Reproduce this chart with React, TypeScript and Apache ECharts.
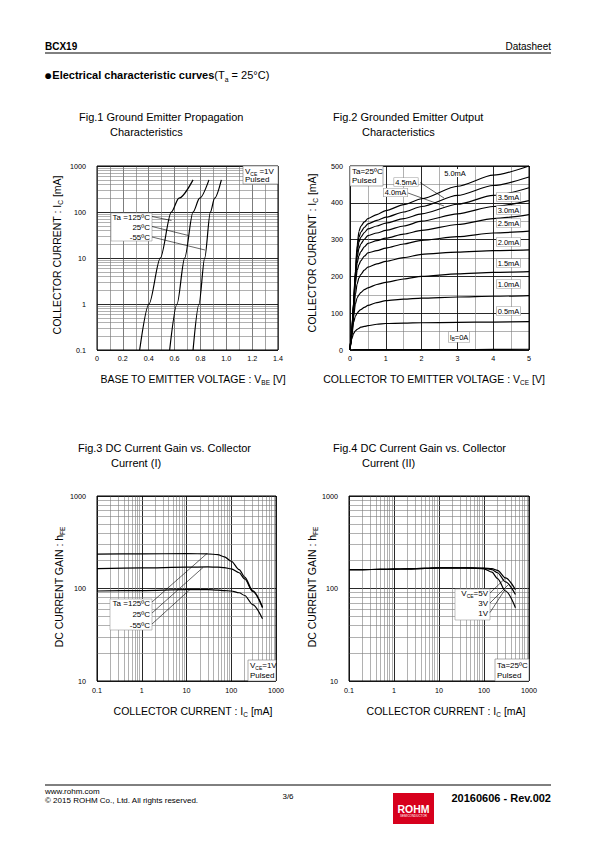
import React, { useEffect, useRef } from 'react';
import * as echarts from 'echarts';

const FONT = '"Liberation Sans", Arial, Helvetica, sans-serif';

// ---------------- Fig.1 : Ic vs Vbe ----------------
const fig1Ic = [0.1, 1, 10, 100, 200, 500];
const fig1Vbe125 = [0.330, 0.402, 0.490, 0.575, 0.634, 0.743];
const fig1Vbe25 = [0.562, 0.619, 0.678, 0.743, 0.794, 0.866];
const fig1VbeM55 = [0.743, 0.789, 0.833, 0.877, 0.910, 0.962];
const fig1TempLabels = ['Ta =125ºC', '25ºC', '-55ºC'];
const fig1XTicks = ['0', '0.2', '0.4', '0.6', '0.8', '1.0', '1.2', '1.4'];
const fig1YTicks = ['0.1', '1', '10', '100', '1000'];

// ---------------- Fig.2 : Ic vs Vce ----------------
const fig2Vce = [0, 0.05, 0.1, 0.15, 0.2, 0.25, 0.3, 0.4, 0.5, 0.75, 1, 1.5, 2, 3, 4, 5];
const fig2Ic50 = [0, 50, 130, 215, 285, 322, 336, 348, 357, 368, 379, 395, 411, 445, 475, 500];
const fig2Ic45 = [0, 50, 128, 210, 275, 306, 320, 333, 343, 352, 361, 375, 390, 420, 447, 470];
const fig2Ic40 = [0, 48, 125, 205, 265, 293, 306, 319, 329, 337, 345, 357, 370, 396, 420, 441];
const fig2Ic35 = [0, 47, 122, 198, 252, 276, 288, 301, 311, 318, 325, 337, 350, 370, 390, 406];
const fig2Ic30 = [0, 46, 118, 190, 236, 256, 267, 280, 290, 297, 304, 315, 325, 341, 357, 368];
const fig2Ic25 = [0, 45, 114, 180, 216, 232, 242, 255, 264, 270, 277, 288, 298, 308, 318, 323];
const fig2Ic20 = [0, 42, 100, 150, 180, 196, 205, 217, 225, 234, 241, 251, 260, 266, 270, 272];
const fig2Ic15 = [0, 40, 90, 125, 142, 150, 156, 164, 169, 178, 184, 193, 200, 207, 211, 213];
const fig2Ic10 = [0, 38, 75, 92, 100, 106, 110, 116, 121, 129, 134, 138, 141, 144, 146, 148];
const fig2Ic05 = [0, 30, 45, 52, 56, 59, 62, 64, 66, 70, 72, 73, 74, 75, 76, 77];
const fig2Ic00 = [0, 0.5, 1, 1, 1, 1, 1, 1, 1, 1, 1, 1, 1, 1, 1.5, 2];
const fig2IbLabels = ['5.0mA', '4.5mA', '4.0mA', '3.5mA', '3.0mA', '2.5mA', '2.0mA', '1.5mA', '1.0mA', '0.5mA'];
const fig2XTicks = ['0', '1', '2', '3', '4', '5'];
const fig2YTicks = ['0', '100', '200', '300', '400', '500'];

// ---------------- Fig.3 : hFE vs Ic (temperature) ----------------
const fig3Ic = [0.1, 1, 10, 30, 50, 70, 100, 150, 200, 300, 500];
const fig3Hfe125 = [235, 237, 238, 237, 232, 220, 197, 160, 133, 95, 63];
const fig3Hfe25 = [164, 167, 170, 171, 170, 168, 163, 148, 127, 93, 62];
const fig3HfeM55 = [94, 95, 97, 97, 96, 95, 94, 90, 84, 67, 47];

// ---------------- Fig.4 : hFE vs Ic (Vce) ----------------
const fig4Ic = [0.1, 0.2, 0.5, 1, 2, 5, 10, 20, 50, 100, 150, 200, 300, 500];
const fig4Hfe5V = [160, 160, 161, 162, 163, 165, 167, 167, 167, 166, 164, 157, 130, 97];
const fig4Hfe3V = [160, 160, 161, 162, 163, 165, 167, 167, 167, 165, 160, 148, 118, 86];
const fig4Hfe1V = [160, 160, 161, 162, 163, 165, 167, 167, 166, 163, 150, 128, 94, 62];
const fig4VceLabels = ['3V', '1V'];

const icLogTicks = ['0.1', '1', '10', '100', '1000'];
const hfeLogTicks = ['10', '100', '1000'];

// ---- helpers ----
const minorLog = (minExp: number, maxExp: number) => {
  const out: number[] = [];
  for (let e = minExp; e < maxExp; e++) for (let d = 2; d <= 9; d++) out.push(+(d * Math.pow(10, e)).toPrecision(3));
  return out;
};
const MAJOR = { color: '#111', width: 0.9 };
const MINOR = { color: '#7c7c7c', width: 0.6 };

const pairs = (xs: number[], ys: number[]) => xs.map((x, i) => [x, ys[i]]);

const curve = (idx: number, data: number[][], extra: any = {}) => ({
  type: 'line',
  xAxisIndex: idx,
  yAxisIndex: idx,
  data,
  showSymbol: false,
  symbol: 'none',
  smooth: 0.3,
  smoothMonotone: 'x',
  silent: true,
  z: 3,
  lineStyle: { color: '#000', width: 1.2 },
  itemStyle: { color: '#000' },
  emphasis: { disabled: true },
  ...extra,
});

const gridMarks = (data: any[]) => ({
  silent: true,
  symbol: ['none', 'none'],
  label: { show: false },
  emphasis: { disabled: true },
  lineStyle: { color: MINOR.color, width: MINOR.width, type: 'solid' },
  z: 1,
  animation: false,
  data,
});

const lbl = (fmt: (v: number) => string, margin: number) => ({
  fontSize: 7.2,
  fontFamily: FONT,
  color: '#000',
  margin,
  showMinLabel: true,
  showMaxLabel: true,
  formatter: fmt,
});

const T = (x: number, y: number, text: string, o: any = {}) => ({
  type: 'text',
  x,
  y,
  z: 101,
  silent: true,
  rotation: o.rotation || 0,
  style: {
    text,
    fontFamily: FONT,
    fontSize: o.fontSize || 8,
    fontWeight: o.fontWeight || 'normal',
    fill: '#000',
    align: o.align || 'left',
    verticalAlign: 'middle',
    rich: o.rich,
    backgroundColor: o.bg,
    borderColor: o.border,
    borderWidth: o.border ? 0.6 : 0,
    padding: o.padding,
  },
});
const L = (x1: number, y1: number, x2: number, y2: number, w = 0.6, c = '#000') => ({
  type: 'line',
  z: 100,
  silent: true,
  shape: { x1, y1, x2, y2 },
  style: { stroke: c, lineWidth: w },
});
const R = (x: number, y: number, width: number, height: number, stroke = '#999', fill = '#fff', z = 99) => ({
  type: 'rect',
  z,
  silent: true,
  shape: { x, y, width, height },
  style: { fill, stroke, lineWidth: stroke === 'none' ? 0 : 0.6 },
});
const sub = (size: number) => ({
  m: { fontSize: size, fontFamily: FONT, lineHeight: Math.round(size * 1.35), verticalAlign: 'middle' },
  b: { fontSize: size, fontFamily: FONT, fontWeight: 'bold', lineHeight: Math.round(size * 1.35), verticalAlign: 'middle' },
  d: { fontSize: size * 1.25, fontFamily: FONT, lineHeight: Math.round(size * 1.35), verticalAlign: 'middle' },
  s: { fontSize: Math.max(4, size * 0.62), fontFamily: FONT, lineHeight: Math.max(4, size * 0.62), verticalAlign: 'bottom' },
});

function buildOption() {
  const grids = [
    { left: 97, top: 166, width: 181, height: 184 },
    { left: 350, top: 166, width: 179, height: 184 },
    { left: 97, top: 496, width: 179, height: 185 },
    { left: 349, top: 496, width: 180, height: 185 },
  ].map((g) => ({ ...g, show: true, borderColor: '#000', borderWidth: 1, backgroundColor: 'rgba(0,0,0,0)', z: 2 }));

  const noTick = { axisTick: { show: false }, axisLine: { show: false } };

  const xAxis = [
    {
      gridIndex: 0, type: 'value', min: 0, max: 1.4, interval: 0.2, ...noTick,
      axisLabel: lbl((v) => fig1XTicks[Math.round(v / 0.2)] ?? '', 5),
      splitLine: { show: true, lineStyle: { color: '#444', width: 0.7 } },
      minorTick: { show: false, splitNumber: 2 },
      minorSplitLine: { show: true, lineStyle: { color: '#666', width: 0.6 } },
    },
    {
      gridIndex: 1, type: 'value', min: 0, max: 5, interval: 1, ...noTick,
      axisLabel: lbl((v) => fig2XTicks[Math.round(v)] ?? '', 5),
      splitLine: { show: true, lineStyle: MAJOR },
      minorTick: { show: false, splitNumber: 2 },
      minorSplitLine: { show: true, lineStyle: MINOR },
    },
    {
      gridIndex: 2, type: 'log', logBase: 10, min: 0.1, max: 1000, ...noTick,
      axisLabel: lbl((v) => icLogTicks[Math.round(Math.log10(v)) + 1] ?? '', 6),
      splitLine: { show: true, lineStyle: MAJOR },
    },
    {
      gridIndex: 3, type: 'log', logBase: 10, min: 0.1, max: 1000, ...noTick,
      axisLabel: lbl((v) => icLogTicks[Math.round(Math.log10(v)) + 1] ?? '', 6),
      splitLine: { show: true, lineStyle: MAJOR },
    },
  ];
  const yAxis = [
    {
      gridIndex: 0, type: 'log', logBase: 10, min: 0.1, max: 1000, ...noTick,
      axisLabel: lbl((v) => fig1YTicks[Math.round(Math.log10(v)) + 1] ?? '', 11),
      splitLine: { show: true, lineStyle: MAJOR },
    },
    {
      gridIndex: 1, type: 'value', min: 0, max: 500, interval: 100, ...noTick,
      axisLabel: lbl((v) => fig2YTicks[Math.round(v / 100)] ?? '', 7),
      splitLine: { show: true, lineStyle: MAJOR },
      minorTick: { show: false, splitNumber: 2 },
      minorSplitLine: { show: true, lineStyle: MINOR },
    },
    {
      gridIndex: 2, type: 'log', logBase: 10, min: 10, max: 1000, ...noTick,
      axisLabel: lbl((v) => hfeLogTicks[Math.round(Math.log10(v)) - 1] ?? '', 11),
      splitLine: { show: true, lineStyle: MAJOR },
    },
    {
      gridIndex: 3, type: 'log', logBase: 10, min: 10, max: 1000, ...noTick,
      axisLabel: lbl((v) => hfeLogTicks[Math.round(Math.log10(v)) - 1] ?? '', 11),
      splitLine: { show: true, lineStyle: MAJOR },
    },
  ];

  const icMinor = minorLog(-1, 3);
  const hfeMinor = minorLog(1, 3);

  const series: any[] = [
    // Fig.1
    curve(0, pairs(fig1Vbe125, fig1Ic), { markLine: gridMarks(icMinor.map((v) => ({ yAxis: v }))) }),
    curve(0, pairs(fig1Vbe25, fig1Ic)),
    curve(0, pairs(fig1VbeM55, fig1Ic)),
    // Fig.2
    ...[fig2Ic50, fig2Ic45, fig2Ic40, fig2Ic35, fig2Ic30, fig2Ic25, fig2Ic20, fig2Ic15, fig2Ic10, fig2Ic05, fig2Ic00].map((ys) =>
      curve(1, pairs(fig2Vce, ys), { smooth: 0.25 })
    ),
    // Fig.3
    curve(2, pairs(fig3Ic, fig3Hfe125), {
      markLine: gridMarks([...icMinor.map((v) => ({ xAxis: v })), ...hfeMinor.map((v) => ({ yAxis: v }))]),
    }),
    curve(2, pairs(fig3Ic, fig3Hfe25)),
    curve(2, pairs(fig3Ic, fig3HfeM55)),
    // Fig.4
    curve(3, pairs(fig4Ic, fig4Hfe5V), {
      markLine: gridMarks([...icMinor.map((v) => ({ xAxis: v })), ...hfeMinor.map((v) => ({ yAxis: v }))]),
    }),
    curve(3, pairs(fig4Ic, fig4Hfe3V)),
    curve(3, pairs(fig4Ic, fig4Hfe1V)),
  ];

  const r8 = sub(8);
  const r75 = sub(7.5);
  const r105 = sub(10.5);
  const r11 = sub(11);

  const fig2Right = [
    { t: fig2IbLabels[3], y: 197 },
    { t: fig2IbLabels[4], y: 210 },
    { t: fig2IbLabels[5], y: 223 },
    { t: fig2IbLabels[6], y: 242 },
    { t: fig2IbLabels[7], y: 263 },
    { t: fig2IbLabels[8], y: 284 },
    { t: fig2IbLabels[9], y: 311 },
  ];
  const labelBox = { bg: '#fff', border: '#9a9a9a', padding: [0, 1, 0, 1], fontSize: 7.5 };

  const graphic: any[] = [
    // header
    T(45, 46, 'BCX19', { fontSize: 10, fontWeight: 'bold' }),
    T(551, 46, 'Datasheet', { fontSize: 10, align: 'right' }),
    L(45, 53, 551, 53, 1),
    T(44, 75, '{d|●}{b|Electrical characteristic curves}{m|(T}{s|a}{m| = 25°C)}', { rich: r11 }),

    // titles
    T(79, 117, 'Fig.1 Ground Emitter Propagation', { fontSize: 11 }),
    T(110, 132, 'Characteristics', { fontSize: 11 }),
    T(333, 117, 'Fig.2 Grounded Emitter Output', { fontSize: 11 }),
    T(362, 132, 'Characteristics', { fontSize: 11 }),
    T(78, 448, 'Fig.3 DC Current Gain vs. Collector', { fontSize: 11 }),
    T(111, 463, 'Current (I)', { fontSize: 11 }),
    T(333, 448, 'Fig.4 DC Current Gain vs. Collector', { fontSize: 11 }),
    T(362, 463, 'Current (II)', { fontSize: 11 }),

    // axis titles
    T(193, 379, '{m|BASE TO EMITTER VOLTAGE : V}{s|BE}{m| [V]}', { rich: r105, align: 'center' }),
    T(434, 379, '{m|COLLECTOR TO EMITTER VOLTAGE : V}{s|CE}{m| [V]}', { rich: r105, align: 'center' }),
    T(193, 711, '{m|COLLECTOR CURRENT : I}{s|C}{m| [mA]}', { rich: r105, align: 'center' }),
    T(446, 711, '{m|COLLECTOR CURRENT : I}{s|C}{m| [mA]}', { rich: r105, align: 'center' }),
    T(57, 255, '{m|COLLECTOR CURRENT : I}{s|C}{m| [mA]}', { rich: r105, align: 'center', rotation: Math.PI / 2 }),
    T(312, 253, '{m|COLLECTOR CURRENT : I}{s|C}{m| [mA]}', { rich: r105, align: 'center', rotation: Math.PI / 2 }),
    T(59, 587, '{m|DC CURRENT GAIN : h}{s|FE}', { rich: r105, align: 'center', rotation: Math.PI / 2 }),
    T(312, 587, '{m|DC CURRENT GAIN : h}{s|FE}', { rich: r105, align: 'center', rotation: Math.PI / 2 }),

    // Fig.1 annotations
    R(243, 166, 35, 18, '#777'),
    T(245, 171, '{m|V}{s|CE}{m| =1V}', { rich: r8 }),
    T(245, 179.5, 'Pulsed'),
    R(111, 213, 41, 28),
    T(150, 217, fig1TempLabels[0], { align: 'right' }),
    T(150, 227, fig1TempLabels[1], { align: 'right' }),
    T(150, 237, fig1TempLabels[2], { align: 'right' }),
    L(152, 216.5, 171.5, 220.5),
    L(152, 226.5, 188.5, 235.5),
    L(152, 237, 205, 250),

    // Fig.2 annotations
    R(350, 166, 33, 20, '#777'),
    T(352, 171, 'Ta=25ºC'),
    T(352, 180, 'Pulsed'),
    T(455, 173, fig2IbLabels[0], { fontSize: 7.5, align: 'center', bg: '#fff', padding: [0, 1, 0, 1] }),
    T(406, 182, fig2IbLabels[1], { ...labelBox, align: 'center' }),
    T(395.5, 192.5, fig2IbLabels[2], { ...labelBox, align: 'center' }),
    L(420, 182.5, 444, 198),
    L(408, 193, 444, 206),
    ...fig2Right.map((l) => T(508.5, l.y, l.t, { ...labelBox, align: 'center' })),
    T(459, 337, '{m|I}{s|B}{m|=0A}', { rich: r75, align: 'center', bg: '#fff', border: '#9a9a9a', padding: [0, 1, 0, 1] }),

    // Fig.3 annotations
    R(110, 599, 42, 31),
    T(150, 603.5, fig1TempLabels[0], { align: 'right' }),
    T(150, 614, fig1TempLabels[1], { align: 'right' }),
    T(150, 625, fig1TempLabels[2], { align: 'right' }),
    L(152, 602, 207, 553.5),
    L(152, 613, 203, 567.5),
    L(152, 624, 190, 589.5),
    R(248, 660, 28, 21, '#777'),
    T(250, 665, '{m|V}{s|CE}{m|=1V}', { rich: r8 }),
    T(250, 675, 'Pulsed'),

    // Fig.4 annotations
    R(455, 589, 35, 31),
    T(488, 593.5, '{m|V}{s|CE}{m|=5V}', { rich: r8, align: 'right' }),
    T(488, 603.5, fig4VceLabels[0], { align: 'right' }),
    T(488, 613.5, fig4VceLabels[1], { align: 'right' }),
    L(490, 593, 505, 578.5),
    L(490, 603, 508, 585),
    L(490, 612.5, 504, 591),
    R(495, 659, 34, 22, '#777'),
    T(497, 665, 'Ta=25ºC'),
    T(497, 675, 'Pulsed'),

    // footer
    L(45, 785, 551, 785, 1),
    T(45, 791, 'www.rohm.com'),
    T(45, 800.5, '© 2015 ROHM Co., Ltd. All rights reserved.'),
    T(288, 796, '3/6', { align: 'center' }),
    R(393, 793, 41, 31, 'none', '#d7001d', 100),
    {
      type: 'text', x: 413.5, y: 809, z: 101, silent: true,
      style: { text: 'ROHM', fontFamily: FONT, fontSize: 10.5, fontWeight: 'bold', fill: '#fff', align: 'center', verticalAlign: 'middle' },
    },
    {
      type: 'text', x: 413.5, y: 816, z: 101, silent: true,
      style: { text: 'SEMICONDUCTOR', fontFamily: FONT, fontSize: 3, fill: '#fff', align: 'center', verticalAlign: 'middle' },
    },
    T(551, 798, '20160606 - Rev.002', { fontSize: 11, fontWeight: 'bold', align: 'right' }),
  ];

  return {
    animation: false,
    backgroundColor: '#fff',
    textStyle: { fontFamily: FONT },
    grid: grids,
    xAxis,
    yAxis,
    series,
    graphic,
  };
}

export default function App() {
  const ref = useRef<HTMLDivElement>(null);
  useEffect(() => {
    if (!ref.current) return;
    const chart = echarts.init(ref.current, undefined, { renderer: 'svg', width: 595, height: 842 });
    chart.setOption(buildOption() as any);
    return () => chart.dispose();
  }, []);
  return (
    <div
      ref={ref}
      style={{ position: 'absolute', left: 0, top: 0, width: 595, height: 842, background: '#fff' }}
    />
  );
}
